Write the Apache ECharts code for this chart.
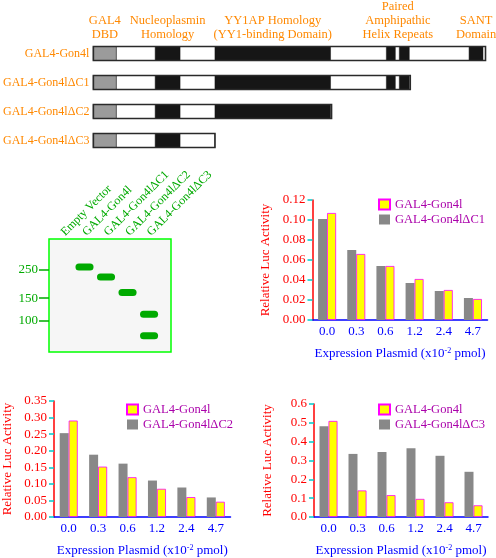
<!DOCTYPE html>
<html><head><meta charset="utf-8">
<script src="https://cdn.jsdelivr.net/npm/echarts@6/dist/echarts.min.js"></script>
<style>html,body{margin:0;padding:0;background:#fff}#c{width:496px;height:558px}</style>
</head><body><div id="c"></div>
<script>
const constructs = ['GAL4-Gon4l', 'GAL4-Gon4lΔC1', 'GAL4-Gon4lΔC2', 'GAL4-Gon4lΔC3'];
const constructEnd = [393.5, 318, 239, 122];
const domainStart = [0, 62, 122, 294, 307, 377];
const domainEnd = [23, 87, 238, 303, 317, 391];
const domainKind = ['dbd', 'dom', 'dom', 'dom', 'dom', 'dom'];
const headerText = ['GAL4\nDBD', 'Nucleoplasmin\nHomology', 'YY1AP Homology\n(YY1-binding Domain)', 'Paired\nAmphipathic\nHelix Repeats', 'SANT\nDomain'];
const headerFrom = [0, 1, 2, 3, 5];
const headerTo = [0, 1, 2, 4, 5];
const lanes = ['Empty Vector', 'GAL4-Gon4l', 'GAL4-Gon4lΔC1', 'GAL4-Gon4lΔC2', 'GAL4-Gon4lΔC3'];
const mwTicks = [100, 150, 250];
const bandLane = [1, 2, 3, 4, 4];
const bandMW = [264, 220, 166, 112, 76];
const bandSignal = [1, 1, 1, 0.15, 4];
const doses = ['0.0', '0.3', '0.6', '1.2', '2.4', '4.7'];
const wtName = 'GAL4-Gon4l';
const cMutName = 'GAL4-Gon4lΔC1';
const cMut = [0.101, 0.070, 0.054, 0.037, 0.029, 0.022];
const cWT  = [0.107, 0.066, 0.054, 0.041, 0.030, 0.021];
const dMutName = 'GAL4-Gon4lΔC2';
const dMut = [0.253, 0.188, 0.161, 0.110, 0.089, 0.059];
const dWT  = [0.291, 0.152, 0.120, 0.085, 0.060, 0.046];
const eMutName = 'GAL4-Gon4lΔC3';
const eMut = [0.482, 0.335, 0.345, 0.365, 0.325, 0.240];
const eWT  = [0.510, 0.141, 0.116, 0.096, 0.078, 0.062];
const FF = "'Liberation Serif','Times New Roman',serif";
const TXT = '#111';
const diagramData = [];
constructs.forEach((c, r) => {
  diagramData.push([r, 0, constructEnd[r], 0]);
  domainStart.forEach((s, k) => {
    if (s < constructEnd[r]) diagramData.push([r, s, Math.min(domainEnd[k], constructEnd[r]), domainKind[k] === 'dbd' ? 1 : 2]);
  });
  diagramData.push([r, 0, constructEnd[r], 3]);
});
const headerData = headerText.map((t, i) => [(domainStart[headerFrom[i]] + domainEnd[headerTo[i]]) / 2, 0, t]);
const BAR_H = 14;
function renderDiagram(params, api) {
  const r = api.value(0), s = api.value(1), e = api.value(2), kind = api.value(3);
  const p0 = api.coord([s, r]), p1 = api.coord([e, r]);
  const shape = { x: p0[0], y: p0[1] - BAR_H / 2, width: p1[0] - p0[0], height: BAR_H };
  let style;
  if (kind === 0) style = { fill: '#fff', stroke: '#9a9a9a', lineWidth: 1 };
  else if (kind === 1) style = { fill: '#9b9b9b', stroke: '#555', lineWidth: 1 };
  else if (kind === 2) style = { fill: '#161616', stroke: '#161616', lineWidth: 0.5 };
  else style = { fill: null, stroke: '#2a2a2a', lineWidth: 1.6 };
  return { type: 'rect', shape, style };
}
function renderHeader(params, api) {
  const p = api.coord([api.value(0), 0]);
  return { type: 'text', style: { x: p[0], y: p[1] - BAR_H / 2 - 5, text: headerText[params.dataIndex],
      align: 'center', verticalAlign: 'bottom', font: '12.5px ' + FF, fill: '#f80', lineHeight: 14 } };
}
const bandData = bandLane.map((l, i) => [l, Math.log10(bandMW[i]), bandSignal[i]]);
function renderBand(params, api) {
  const p = api.coord([api.value(0), api.value(1)]);
  const laneW = api.size([1, 0])[0];
  return { type: 'rect', shape: { x: p[0] - laneW * 0.42, y: p[1] - 3.5, width: laneW * 0.84, height: 7, r: 3.5 }, style: { fill: '#0a0' } };
}
function barXAxis(grid) {
  return { type: 'category', gridIndex: grid, data: doses,
    axisLine: { show: true, onZero: false, lineStyle: { color: '#00f', width: 1.5 } }, axisTick: { show: false }, splitLine: { show: false },
    axisLabel: { fontFamily: FF, fontSize: 13, color: '#00f', margin: 5 },
    name: 'Expression Plasmid (x10{s|-2} pmol)', nameLocation: 'middle', nameGap: 27,
    nameTextStyle: { fontFamily: FF, fontSize: 13, color: '#00f', rich: { s: { fontSize: 8, verticalAlign: 'top' } } } };
}
function barYAxis(grid, max, interval, dec) {
  return { type: 'value', gridIndex: grid, min: 0, max, interval,
    axisLine: { show: true, onZero: false, lineStyle: { color: '#f00', width: 1.5 } },
    axisTick: { show: true, length: 5, lineStyle: { color: '#0cc', width: 1.5 } }, splitLine: { show: false },
    axisLabel: { formatter: v => v.toFixed(dec), fontFamily: FF, fontSize: 13, color: '#f00', margin: 7 },
    name: 'Relative Luc Activity', nameLocation: 'middle', nameGap: 40, nameTextStyle: { fontFamily: FF, fontSize: 13, color: '#f00' } };
}
function barSeries(grid, name, data, wt) {
  return { type: 'bar', name, xAxisIndex: grid, yAxisIndex: grid, data: data, barWidth: 9, barGap: '0%',
    itemStyle: wt ? { color: '#ff0', borderColor: '#f0f', borderWidth: 0.8 } : { color: '#888' }, emphasis: { disabled: true } };
}
function legendFor(left, top, names) {
  return { orient: 'vertical', left, top, padding: 0, itemWidth: 11, itemHeight: 10, itemGap: 2, data: names,
    selectedMode: false, textStyle: { fontFamily: FF, fontSize: 12.5, color: '#a0a' }, icon: 'rect' };
}
const option = {
  animation: false, backgroundColor: '#fff', textStyle: { fontFamily: FF },
  grid: [
    { left: 92, top: 39, width: 394, height: 116 },
    { left: 49, top: 239, width: 122, height: 113, show: true, borderColor: '#0f0', borderWidth: 1.5, backgroundColor: '#f6f6f6' },
    { left: 312.5, top: 200, width: 175, height: 120 },
    { left: 53.5, top: 401, width: 177, height: 122.7 },
    { left: 314, top: 404, width: 174, height: 119.7 }
  ],
  xAxis: [
    { type: 'value', gridIndex: 0, min: 0, max: 394, show: false },
    { type: 'value', gridIndex: 1, position: 'top', min: -0.65, max: 5.02,
      axisLine: { show: false, onZero: false }, axisTick: { show: false }, splitLine: { show: false },
      axisLabel: { customValues: [0, 1, 2, 3, 4], formatter: v => lanes[Math.round(v)], rotate: -45, margin: 5,
        align: 'left', verticalAlign: 'middle', fontFamily: FF, fontSize: 12, color: '#0a0' } },
    barXAxis(2), barXAxis(3), barXAxis(4)
  ],
  yAxis: [
    { type: 'category', gridIndex: 0, data: constructs, inverse: true, axisLine: { show: false }, axisTick: { show: false }, splitLine: { show: false },
      axisLabel: { fontFamily: FF, fontSize: 12, color: '#f80', margin: 4 } },
    { type: 'value', gridIndex: 1, min: Math.log10(56.5), max: Math.log10(438.8), axisLine: { show: false, onZero: false }, splitLine: { show: false },
      axisTick: { show: true, customValues: mwTicks.map(v => Math.log10(v)), length: 10, lineStyle: { color: '#0a0', width: 1.5 } },
      axisLabel: { customValues: mwTicks.map(v => Math.log10(v)), formatter: v => String(Math.round(Math.pow(10, v))), fontFamily: FF, fontSize: 13, color: '#0a0', margin: 11 } },
    barYAxis(2, 0.12, 0.02, 2), barYAxis(3, 0.35, 0.05, 2), barYAxis(4, 0.6, 0.1, 1)
  ],
  legend: [ legendFor(378, 198, [wtName, cMutName]), legendFor(126, 403, [wtName, dMutName]), legendFor(378, 403, [wtName, eMutName]) ],
  series: [
    { type: 'custom', xAxisIndex: 0, yAxisIndex: 0, data: diagramData, renderItem: renderDiagram, encode: { x: [1, 2], y: 0 }, silent: true, clip: false },
    { type: 'custom', xAxisIndex: 0, yAxisIndex: 0, data: headerData, renderItem: renderHeader, encode: { x: 0, y: 1 }, silent: true, clip: false },
    { type: 'custom', xAxisIndex: 1, yAxisIndex: 1, data: bandData, renderItem: renderBand, encode: { x: 0, y: 1 }, silent: true, clip: true },
    barSeries(2, cMutName, cMut, false), barSeries(2, wtName, cWT, true),
    barSeries(3, dMutName, dMut, false), barSeries(3, wtName, dWT, true),
    barSeries(4, eMutName, eMut, false), barSeries(4, wtName, eWT, true)
  ]
};
const chart = echarts.init(document.getElementById('c'));
chart.setOption(option);
</script></body></html>
